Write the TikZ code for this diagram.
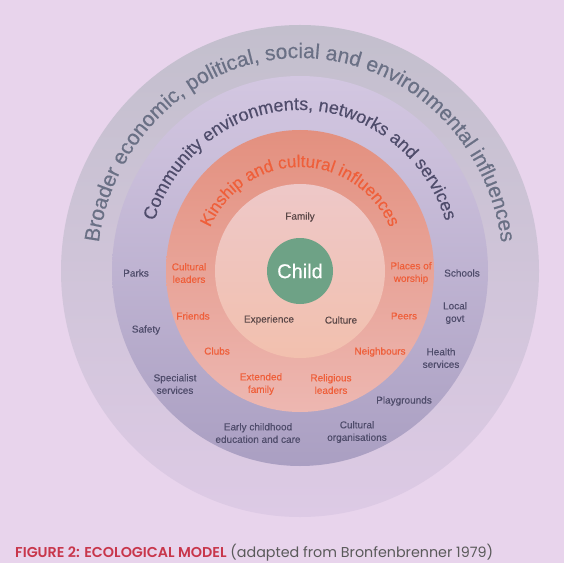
\documentclass[tikz,border=0pt]{standalone}
\usepackage{fontspec}
\setmainfont{Liberation Sans}[UprightFeatures={FakeBold=0.35}]
\newfontfamily\captionfont{Poppins}
\newfontfamily\captionsemi{Poppins SemiBold}
\usetikzlibrary{decorations.text}
\definecolor{bgcol}{HTML}{E8D4EC}
\definecolor{outertop}{HTML}{C3BFCD}
\definecolor{outerbot}{HTML}{DDCAE5}
\definecolor{commtop}{HTML}{D3C7E1}
\definecolor{commbot}{HTML}{AA9FC2}
\definecolor{kintop}{HTML}{E3907F}
\definecolor{kinbot}{HTML}{EDB7B1}
\definecolor{famtop}{HTML}{EEC8C8}
\definecolor{fambot}{HTML}{F2C0AE}
\definecolor{childgreen}{HTML}{6EA286}
\definecolor{outertext}{HTML}{6A7085}
\definecolor{commtext}{HTML}{4F4C6B}
\definecolor{kintext}{HTML}{EF5F3A}
\definecolor{famtext}{HTML}{5B4848}
\definecolor{captionred}{HTML}{C8364B}
\definecolor{captiongrey}{HTML}{5A5A5A}
\tikzset{
  commlabel/.style={text=commtext, font=\fontsize{10}{12.5}\selectfont, align=center, inner sep=0pt},
  kinlabel/.style={commlabel, text=kintext},
  famlabel/.style={commlabel, text=famtext},
}
\begin{document}
\begin{tikzpicture}[x=1pt,y=1pt]
    \fill[bgcol] (0,0) rectangle (564,563);
    \coordinate (centre) at (300,292);
    % rings
    \shade[top color=outertop,bottom color=outerbot] (centre) ellipse [x radius=239,y radius=246];
    \shade[top color=commtop,bottom color=commbot] (centre) ellipse [x radius=188,y radius=195];
    \shade[top color=kintop,bottom color=kinbot] (centre) ellipse [x radius=134,y radius=141];
    \shade[top color=famtop,bottom color=fambot] (centre) ellipse [x radius=85,y radius=87];
    \node[circle,fill=childgreen,minimum size=66,inner sep=0pt,text=white,font=\fontsize{20}{20}\selectfont] (child) at (centre) {Child};
    % curved titles
    \path[decorate,decoration={text along path,text align=center,
        text={|\fontsize{21}{21}\selectfont\color{outertext}|Broader economic, political, social and environmental influences}}]
        (centre) ++(179:203 and 213) arc [start angle=179,end angle=1,x radius=203,y radius=213];
    \path[decorate,decoration={text along path,text align=center,
        text={|\fontsize{18}{18}\selectfont\color{commtext}|Community environments, networks and services}}]
        (centre) ++(178:153 and 161) arc [start angle=178,end angle=2,x radius=153,y radius=161];
    \path[decorate,decoration={text along path,text align=center,
        text={|\fontsize{17}{17}\selectfont\color{kintext}|Kinship and cultural influences}}]
        (centre) ++(178:99 and 104) arc [start angle=178,end angle=2,x radius=99,y radius=104];
    % family
    \node[famlabel] (family) at (300,346) {Family};
    \node[famlabel] (experience) at (269,243) {Experience};
    \node[famlabel] (culture) at (341,243) {Culture};
    % kinship
    \node[kinlabel] (leaders) at (189,290) {Cultural\\leaders};
    \node[kinlabel] (worship) at (411,290) {Places of\\worship};
    \node[kinlabel] (friends) at (193,247) {Friends};
    \node[kinlabel] (peers) at (404,247) {Peers};
    \node[kinlabel] (clubs) at (217,212) {Clubs};
    \node[kinlabel] (neighbours) at (380,211) {Neighbours};
    \node[kinlabel] (extended) at (261,179) {Extended\\family};
    \node[kinlabel] (religious) at (331,179) {Religious\\leaders};
    % community
    \node[commlabel] (parks) at (136,290) {Parks};
    \node[commlabel] (schools) at (462,290) {Schools};
    \node[commlabel] (safety) at (146,233) {Safety};
    \node[commlabel] (govt) at (455,250) {Local\\govt};
    \node[commlabel] (health) at (441,205) {Health\\services};
    \node[commlabel] (specialist) at (175,179) {Specialist\\services};
    \node[commlabel] (playgrounds) at (404,162) {Playgrounds};
    \node[commlabel] (early) at (258,130) {Early childhood\\education and care};
    \node[commlabel] (organisations) at (357,131) {Cultural\\organisations};
    % caption
    \node[anchor=base west,inner sep=0pt,font=\captionfont\fontsize{14.3}{14.3}\selectfont] (caption) at (15,6)
        {\textcolor{captionred}{\captionsemi FIGURE 2: ECOLOGICAL MODEL} \textcolor{captiongrey}{(adapted from Bronfenbrenner 1979)}};
\end{tikzpicture}
\end{document}
